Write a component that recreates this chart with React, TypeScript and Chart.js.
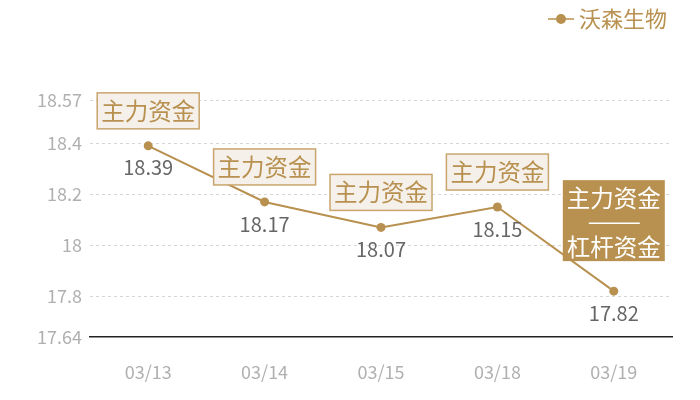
import React, { useEffect, useRef } from 'react';
import { Chart, registerables } from 'chart.js';

Chart.register(...registerables);

const dates = ['03/13', '03/14', '03/15', '03/18', '03/19'];
const prices = [18.39, 18.17, 18.07, 18.15, 17.82];
const yTicks = [17.64, 17.8, 18, 18.2, 18.4, 18.57];
const seriesName = '沃森生物';
const mainLabel = '主力资金';
const leverLabel = '杠杆资金';

const GOLD = '#b8904f';
const FONT = '"Noto Sans CJK SC", "Noto Sans", sans-serif';

// draws the value labels, the boxed tags over the points and the legend
const overlayPlugin = {
  id: 'overlay',
  afterDatasetsDraw(chart: any) {
    const { ctx } = chart;
    const meta = chart.getDatasetMeta(0);
    ctx.save();
    ctx.textAlign = 'center';
    ctx.textBaseline = 'middle';
    meta.data.forEach((pt: any, i: number) => {
      const x = pt.x;
      const y = pt.y;
      ctx.fillStyle = '#666';
      ctx.font = `20px ${FONT}`;
      ctx.fillText(String(prices[i]), x, y + 22);

      const w = 102;
      if (i === prices.length - 1) {
        const h = 81;
        const top = y - 30 - h;
        ctx.fillStyle = GOLD;
        ctx.fillRect(x - w / 2, top, w, h);
        ctx.fillStyle = '#fff';
        ctx.font = `23.5px ${FONT}`;
        ctx.fillText(mainLabel, x, top + 18);
        ctx.fillText(leverLabel, x, top + 67);
        ctx.strokeStyle = '#fff';
        ctx.lineWidth = 1.5;
        ctx.beginPath();
        ctx.moveTo(x - 25, top + 43);
        ctx.lineTo(x + 26, top + 43);
        ctx.stroke();
      } else {
        const h = 36;
        const top = y - 17 - h;
        ctx.fillStyle = '#f5f1ea';
        ctx.fillRect(x - w / 2, top, w, h);
        ctx.strokeStyle = '#c9a56d';
        ctx.lineWidth = 1.5;
        ctx.strokeRect(x - w / 2, top, w, h);
        ctx.fillStyle = GOLD;
        ctx.font = `23.5px ${FONT}`;
        ctx.fillText(mainLabel, x, top + h / 2);
      }
    });

    // legend
    ctx.strokeStyle = GOLD;
    ctx.lineWidth = 1.5;
    ctx.beginPath();
    ctx.moveTo(548, 19);
    ctx.lineTo(574, 19);
    ctx.stroke();
    ctx.fillStyle = GOLD;
    ctx.beginPath();
    ctx.arc(561, 19, 5, 0, Math.PI * 2);
    ctx.fill();
    ctx.textAlign = 'left';
    ctx.font = `22px ${FONT}`;
    ctx.fillText(seriesName, 579, 19);
    ctx.restore();
  },
};

export default function App() {
  const canvasRef = useRef<HTMLCanvasElement>(null);

  useEffect(() => {
    document.body.style.margin = '0';
    if (!canvasRef.current) return;
    const chart = new Chart(canvasRef.current, {
      type: 'line',
      data: {
        labels: dates,
        datasets: [
          {
            label: seriesName,
            data: prices,
            borderColor: GOLD,
            backgroundColor: GOLD,
            borderWidth: 2,
            pointRadius: 4.5,
            pointBackgroundColor: GOLD,
            pointBorderWidth: 0,
            tension: 0,
          },
        ],
      },
      options: {
        responsive: false,
        animation: false,
        layout: { padding: { top: 100, right: 28, left: 0, bottom: 0 } },
        plugins: {
          legend: { display: false },
          tooltip: { enabled: false },
        },
        scales: {
          x: {
            offset: true,
            grid: { display: false, drawTicks: false },
            border: { display: true, color: '#222', width: 1.5 },
            ticks: {
              color: '#b0b0b0',
              padding: 24,
              font: { family: FONT, size: 18 },
            },
            afterFit(scale: any) {
              scale.height = 63;
            },
          },
          y: {
            min: 17.64,
            max: 18.57,
            afterBuildTicks(scale: any) {
              scale.ticks = yTicks.map((v) => ({ value: v }));
            },
            afterFit(scale: any) {
              scale.width = 90;
            },
            grid: {
              drawTicks: false,
              color: (c: any) => (c.tick && c.tick.value === 17.64 ? 'rgba(0,0,0,0)' : '#d6d6d6'),
              lineWidth: 1,
            },
            border: { display: false, dash: [3, 3] },
            ticks: {
              color: '#b0b0b0',
              padding: 8,
              font: { family: FONT, size: 18 },
              callback: (v: any) => String(v),
            },
          },
        },
      },
      plugins: [overlayPlugin],
    });
    return () => chart.destroy();
  }, []);

  return (
    <div style={{ width: 700, height: 400, background: '#fff' }}>
      <canvas ref={canvasRef} width={700} height={400} />
    </div>
  );
}
